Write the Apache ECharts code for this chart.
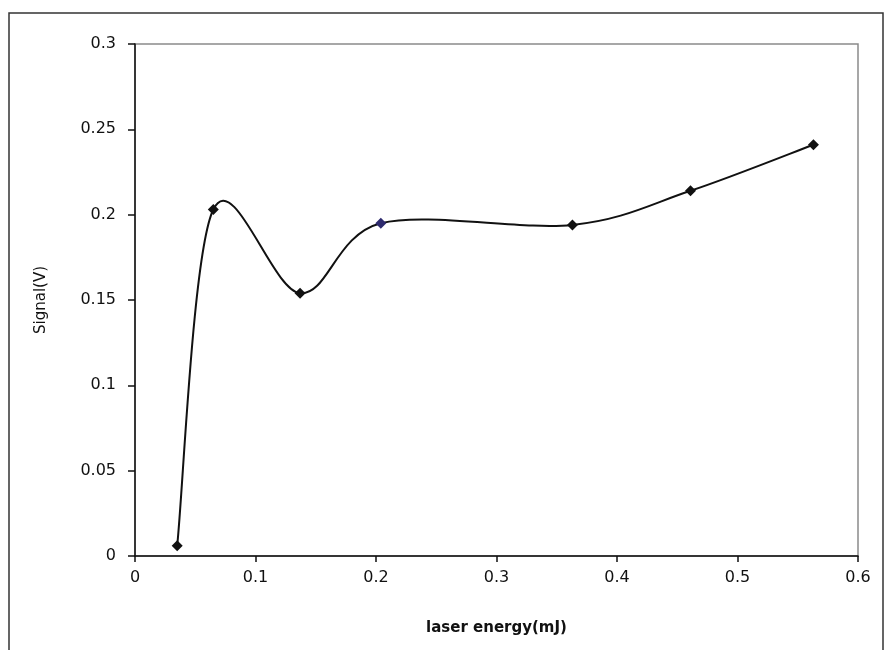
<!DOCTYPE html>
<html>
<head>
<meta charset="utf-8">
<script src="https://cdn.jsdelivr.net/npm/echarts@6/dist/echarts.min.js"></script>
<style>
  html, body { margin: 0; padding: 0; background: #fff; }
  #chart { width: 885px; height: 650px; }
</style>
</head>
<body>
<div id="chart"></div>
<script>
// Laser energy (mJ) against measured signal (V)
var energy = [0.035, 0.065, 0.137, 0.204, 0.363, 0.461, 0.563];
var signal = [0.006, 0.203, 0.154, 0.195, 0.194, 0.214, 0.241];
var xTicks = [0, 0.1, 0.2, 0.3, 0.4, 0.5, 0.6];
var yTicks = [0, 0.05, 0.1, 0.15, 0.2, 0.25, 0.3];

var points = energy.map(function (e, i) { return [e, signal[i]]; });
var n = points.length;

var chart = echarts.init(document.getElementById('chart'), null, { renderer: 'canvas' });
var font = '"DejaVu Sans", Arial, sans-serif';

// Each item draws the smoothed segment from point i to point i+1
// (cardinal spline, tangent = (next - prev) / 6, ends clamped).
function renderSegment(params, api) {
  var i = params.dataIndex;
  if (i >= n - 1) return null;
  var p0 = api.coord(points[Math.max(i - 1, 0)]);
  var p1 = api.coord(points[i]);
  var p2 = api.coord(points[i + 1]);
  var p3 = api.coord(points[Math.min(i + 2, n - 1)]);
  return {
    type: 'bezierCurve',
    shape: {
      x1: p1[0], y1: p1[1],
      x2: p2[0], y2: p2[1],
      cpx1: p1[0] + (p2[0] - p0[0]) / 6, cpy1: p1[1] + (p2[1] - p0[1]) / 6,
      cpx2: p2[0] - (p3[0] - p1[0]) / 6, cpy2: p2[1] - (p3[1] - p1[1]) / 6
    },
    style: { fill: null, stroke: '#111', lineWidth: 2 }
  };
}

var axisText = { fontFamily: font, fontSize: 16, color: '#111' };
function fmt(v) { return String(+v.toFixed(2)); }

chart.setOption({
  animation: false,
  backgroundColor: '#ffffff',
  graphic: [{
    type: 'rect',
    shape: { x: 9, y: 13, width: 874, height: 660 },
    style: { fill: 'none', stroke: '#333', lineWidth: 1.5 },
    silent: true
  }],
  grid: {
    left: 135, top: 44, right: 27, bottom: 94,
    show: true, borderColor: '#8a8a8a', borderWidth: 1.5,
    containLabel: false
  },
  xAxis: {
    type: 'value',
    min: xTicks[0], max: xTicks[xTicks.length - 1], interval: 0.1,
    name: 'laser energy(mJ)',
    nameLocation: 'middle', nameGap: 65,
    nameTextStyle: { fontFamily: font, fontSize: 15, fontWeight: 'bold', color: '#111' },
    axisLine: { show: true, onZero: false, lineStyle: { color: '#111', width: 1.5 } },
    axisTick: { show: true, inside: false, length: 6, lineStyle: { color: '#111', width: 1.5 } },
    axisLabel: Object.assign({ margin: 14, formatter: fmt }, axisText),
    splitLine: { show: false }
  },
  yAxis: {
    type: 'value',
    min: yTicks[0], max: yTicks[yTicks.length - 1], interval: 0.05,
    name: 'Signal(V)',
    nameLocation: 'middle', nameGap: 86,
    nameTextStyle: { fontFamily: font, fontSize: 15, color: '#111' },
    axisLine: { show: true, onZero: false, lineStyle: { color: '#111', width: 1.5 } },
    axisTick: { show: true, inside: false, length: 7, lineStyle: { color: '#111', width: 1.5 } },
    axisLabel: Object.assign({ margin: 19, formatter: fmt }, axisText),
    splitLine: { show: false }
  },
  series: [{
    type: 'custom',
    renderItem: renderSegment,
    data: points,
    z: 2,
    silent: true
  }, {
    type: 'scatter',
    data: points.map(function (p, i) {
      return i === 3 ? { value: p, itemStyle: { color: '#2e2a6e' } } : { value: p };
    }),
    symbol: 'diamond',
    symbolSize: 11,
    itemStyle: { color: '#111', opacity: 1 },
    z: 3
  }]
});
</script>
</body>
</html>
